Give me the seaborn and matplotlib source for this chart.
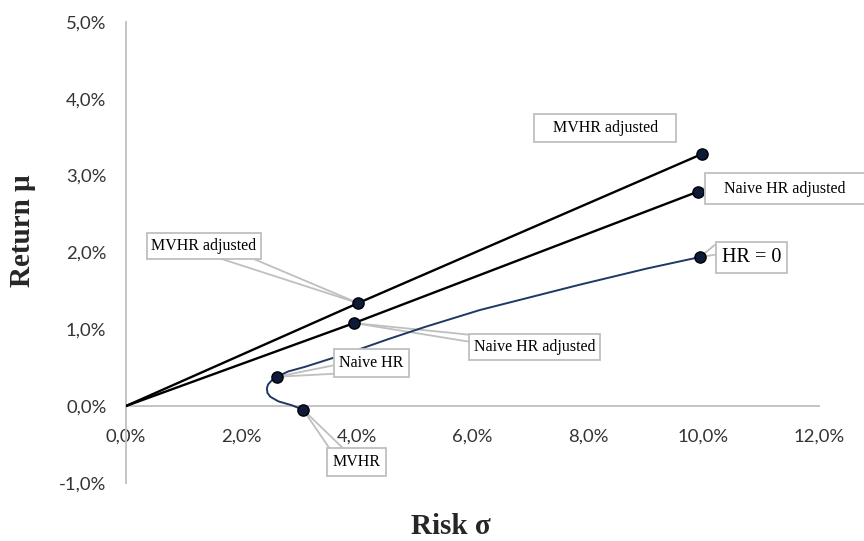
import matplotlib
matplotlib.use("Agg")
import matplotlib.pyplot as plt
import seaborn as sns
import pandas as pd
from matplotlib.ticker import FuncFormatter

# ---------------- data (percent) ----------------
# Capital allocation lines (start at origin)
mvhr_adj_sigma = [0.0, 4.02, 9.97]
mvhr_adj_mu = [0.0, 1.34, 3.28]
naive_adj_sigma = [0.0, 3.95, 9.90]
naive_adj_mu = [0.0, 1.08, 2.79]

# Hedged-portfolio frontier (HR = 0 ... MVHR)
curve_sigma = [9.94, 9.02, 7.86, 6.13, 5.18, 4.54, 3.97, 3.56, 3.10, 2.81,
               2.61, 2.52, 2.46, 2.44, 2.45, 2.50, 2.64, 2.87, 3.07]
curve_mu = [1.94, 1.79, 1.58, 1.25, 1.03, 0.87, 0.72, 0.62, 0.51, 0.45,
            0.38, 0.33, 0.28, 0.23, 0.17, 0.12, 0.06, 0.01, -0.05]

# Marked points
point_names = ["MVHR adjusted", "MVHR adjusted end", "Naive HR adjusted",
               "Naive HR adjusted end", "HR = 0", "Naive HR", "MVHR"]
point_sigma = [4.02, 9.97, 3.95, 9.90, 9.94, 2.61, 3.07]
point_mu = [1.34, 3.28, 1.08, 2.79, 1.94, 0.38, -0.05]

x_ticks = [0, 2, 4, 6, 8, 10, 12]
y_ticks = [-1, 0, 1, 2, 3, 4, 5]

# ---------------- figure ----------------
sns.set_theme(style="white")
plt.rcParams["font.family"] = ["Lato", "DejaVu Sans"]

fig = plt.figure(figsize=(8.64, 5.41), dpi=100)
fig.patch.set_facecolor("white")
ax = fig.add_axes([0.1458, 0.1076, 0.8021, 0.8517])
ax.set_facecolor("white")

sns.lineplot(x=mvhr_adj_sigma, y=mvhr_adj_mu, sort=False, estimator=None,
             color="black", lw=1.7, ax=ax, zorder=3)
sns.lineplot(x=naive_adj_sigma, y=naive_adj_mu, sort=False, estimator=None,
             color="black", lw=1.7, ax=ax, zorder=3)
sns.lineplot(x=curve_sigma, y=curve_mu, sort=False, estimator=None,
             color="#1f3864", lw=1.4, ax=ax, zorder=3)
sns.scatterplot(x=point_sigma, y=point_mu, s=65, color="#0d1a3a",
                edgecolor="black", linewidth=1.0, ax=ax, zorder=4)

ax.set_xlim(0, 12)
ax.set_ylim(-1, 5)
ax.set_xticks(x_ticks)
ax.set_yticks(y_ticks)
fmt = FuncFormatter(lambda v, p: f"{v:.1f}%".replace(".", ","))
ax.xaxis.set_major_formatter(fmt)
ax.yaxis.set_major_formatter(fmt)

for s in ["top", "right"]:
    ax.spines[s].set_visible(False)
ax.spines["bottom"].set_position(("data", 0))
for s in ["left", "bottom"]:
    ax.spines[s].set_color("#bfbfbf")
    ax.spines[s].set_linewidth(1.3)
    ax.spines[s].set_zorder(1)

ax.tick_params(axis="x", length=0, pad=16, labelsize=13.3, labelcolor="#333333")
ax.tick_params(axis="y", length=0, pad=14, labelsize=13.3, labelcolor="#333333")
ax.set_xlabel("")
ax.set_ylabel("")

# ---------------- callouts ----------------
serif = "Liberation Serif"
box_kw = dict(fc="white", ec="#bfbfbf", lw=1.3)


def callout(text, xy, xytext, fs=11.5, pad=0.3, leader=()):
    # leader: two anchor points on the box edge; gray lines converge on the point
    for base in leader:
        ax.annotate("", xy=xy, xytext=base,
                    arrowprops=dict(arrowstyle="-", color="#bfbfbf", lw=1.3,
                                    shrinkA=0, shrinkB=0),
                    annotation_clip=False, zorder=2)
    ax.annotate(text, xy=xy, xytext=xytext, ha="center", va="center",
                fontsize=fs, family=serif, color="black",
                bbox=dict(boxstyle=f"square,pad={pad}", **box_kw),
                annotation_clip=False, zorder=6)


callout("   MVHR adjusted   ", (point_sigma[1], point_mu[1]), (8.30, 3.62), pad=0.4)
callout("   Naive HR adjusted   ", (point_sigma[3], point_mu[3]), (11.41, 2.83),
        pad=0.45, leader=[(10.10, 2.88), (10.10, 2.75)])
callout("HR = 0", (point_sigma[4], point_mu[4]), (10.83, 1.93), fs=14.5,
        pad=0.3, leader=[(10.20, 2.10), (10.20, 1.97)])
callout("MVHR adjusted", (point_sigma[0], point_mu[0]), (1.35, 2.08),
        pad=0.3, leader=[(1.51, 1.95), (2.10, 1.95)])
callout("Naive HR adjusted", (point_sigma[2], point_mu[2]), (7.08, 0.77),
        pad=0.3, leader=[(5.92, 0.93), (5.92, 0.84)])
callout("Naive HR", (point_sigma[5], point_mu[5]), (4.25, 0.56),
        pad=0.35, leader=[(3.60, 0.53), (3.60, 0.42)])
callout("MVHR", (point_sigma[6], point_mu[6]), (3.99, -0.73),
        pad=0.35, leader=[(3.55, -0.58), (3.80, -0.58)])

# ---------------- axis titles ----------------
fig.text(23 / 864, 1 - 231 / 541, "Return μ", rotation=90, ha="center",
         va="center", fontsize=21, fontweight="bold", family=serif)
fig.text(451 / 864, 1 - 527 / 541, "Risk σ", ha="center", va="center",
         fontsize=21, fontweight="bold", family=serif)

fig.savefig("out.png", dpi=100, facecolor="white")
